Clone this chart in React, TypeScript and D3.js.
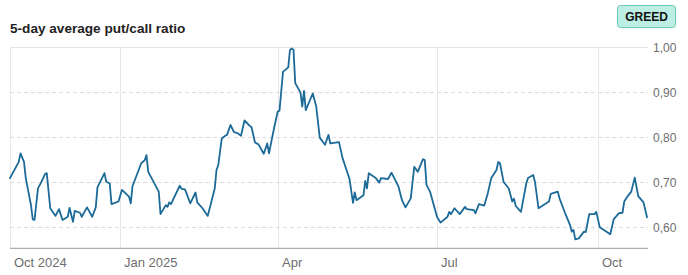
import React from "react";
import * as d3 from "d3";

const title = "5-day average put/call ratio";
const badgeLabel = "GREED";

const dates: string[] = [
  "2024-10-30","2024-11-04","2024-11-05","2024-11-07","2024-11-08","2024-11-11","2024-11-12","2024-11-13","2024-11-15","2024-11-17",
  "2024-11-19","2024-11-20","2024-11-22","2024-11-25","2024-11-27","2024-11-29","2024-12-02","2024-12-03","2024-12-05","2024-12-06",
  "2024-12-09","2024-12-10","2024-12-13","2024-12-16","2024-12-18","2024-12-19","2024-12-23","2024-12-24","2024-12-26","2024-12-27",
  "2024-12-31","2025-01-02","2025-01-06","2025-01-07","2025-01-08","2025-01-13","2025-01-15","2025-01-16","2025-01-17","2025-01-23",
  "2025-01-24","2025-01-27","2025-01-28","2025-01-29","2025-01-30","2025-02-01","2025-02-04","2025-02-05","2025-02-07","2025-02-10",
  "2025-02-13","2025-02-14","2025-02-17","2025-02-20","2025-02-24","2025-02-25","2025-02-26","2025-02-28","2025-03-02","2025-03-03",
  "2025-03-05","2025-03-07","2025-03-09","2025-03-11","2025-03-13","2025-03-16","2025-03-17","2025-03-19","2025-03-21","2025-03-24",
  "2025-03-26","2025-03-27","2025-03-30","2025-04-01","2025-04-02","2025-04-04","2025-04-07","2025-04-08","2025-04-09","2025-04-10",
  "2025-04-11","2025-04-14","2025-04-15","2025-04-16","2025-04-17","2025-04-21","2025-04-23","2025-04-25","2025-04-28","2025-04-30",
  "2025-05-01","2025-05-06","2025-05-08","2025-05-12","2025-05-14","2025-05-15","2025-05-16","2025-05-20","2025-05-21","2025-05-22",
  "2025-05-23","2025-05-27","2025-05-29","2025-05-30","2025-06-03","2025-06-05","2025-06-09","2025-06-11","2025-06-13","2025-06-16",
  "2025-06-18","2025-06-20","2025-06-23","2025-06-24","2025-06-25","2025-06-27","2025-07-01","2025-07-03","2025-07-07","2025-07-08",
  "2025-07-09","2025-07-11","2025-07-14","2025-07-17","2025-07-18","2025-07-22","2025-07-23","2025-07-25","2025-07-28","2025-07-30",
  "2025-08-01","2025-08-04","2025-08-05","2025-08-06","2025-08-08","2025-08-11","2025-08-13","2025-08-14","2025-08-15","2025-08-18",
  "2025-08-21","2025-08-22","2025-08-25","2025-08-26","2025-08-28","2025-09-03","2025-09-04","2025-09-08","2025-09-09","2025-09-12",
  "2025-09-15","2025-09-16","2025-09-17","2025-09-18","2025-09-20","2025-09-23","2025-09-24","2025-09-26","2025-09-29","2025-09-30",
  "2025-10-02","2025-10-08","2025-10-10","2025-10-13","2025-10-15","2025-10-16","2025-10-18","2025-10-20","2025-10-22","2025-10-24",
  "2025-10-27","2025-10-29"
];

const ratios: number[] = [
  0.708,0.744,0.763,0.744,0.708,0.648,0.616,0.615,0.685,0.700,
  0.717,0.719,0.641,0.624,0.639,0.615,0.622,0.642,0.611,0.635,
  0.631,0.622,0.643,0.622,0.643,0.688,0.719,0.700,0.696,0.650,
  0.656,0.682,0.667,0.652,0.690,0.741,0.748,0.759,0.722,0.678,
  0.628,0.648,0.644,0.654,0.650,0.667,0.691,0.684,0.683,0.652,
  0.676,0.654,0.641,0.624,0.685,0.726,0.737,0.796,0.802,0.804,
  0.826,0.810,0.808,0.802,0.836,0.824,0.821,0.787,0.783,0.762,
  0.785,0.763,0.821,0.856,0.858,0.944,0.954,0.993,0.996,0.993,
  0.919,0.898,0.867,0.902,0.859,0.896,0.867,0.798,0.782,0.804,
  0.785,0.788,0.753,0.706,0.653,0.676,0.659,0.670,0.702,0.685,
  0.719,0.708,0.698,0.708,0.706,0.720,0.689,0.659,0.643,0.663,
  0.733,0.722,0.750,0.748,0.693,0.678,0.622,0.609,0.622,0.633,
  0.628,0.641,0.628,0.644,0.639,0.637,0.630,0.650,0.647,0.674,
  0.708,0.726,0.744,0.741,0.700,0.685,0.656,0.662,0.646,0.633,
  0.696,0.708,0.715,0.699,0.641,0.656,0.673,0.678,0.663,0.632,
  0.604,0.589,0.593,0.572,0.574,0.589,0.588,0.628,0.628,0.633,
  0.599,0.583,0.617,0.630,0.631,0.656,0.668,0.678,0.709,0.668,
  0.654,0.621
];

const xTickDates: string[] = ["2024-10-30", "2025-01-01", "2025-04-01", "2025-07-01", "2025-10-01"];
const xTickLabels: string[] = ["Oct 2024", "Jan 2025", "Apr", "Jul", "Oct"];
const yTicks: number[] = [0.6, 0.7, 0.8, 0.9, 1.0];
const yDomain: number[] = [0.552, 1.0];

const W = 688;
const H = 275;
const plotLeft = 10;
const plotRight = 647;
const plotTop = 46.7;
const plotBottom = 248.3;

export default function App() {
  const parse = d3.timeParse("%Y-%m-%d");
  const data = dates.map((d, i) => ({ date: parse(d) as Date, value: ratios[i] }));

  const x = d3
    .scaleTime()
    .domain([data[0].date, data[data.length - 1].date])
    .range([plotLeft, plotRight]);
  const y = d3.scaleLinear().domain(yDomain).range([plotBottom, plotTop]);

  const line = d3
    .line<{ date: Date; value: number }>()
    .x((d) => x(d.date))
    .y((d) => y(d.value))
    .curve(d3.curveLinear);

  const fmt = (v: number) => v.toFixed(2).replace(".", ",");
  const font = "Arial, 'Liberation Sans', Helvetica, sans-serif";

  return (
    <div style={{ position: "absolute", left: 0, top: 0 }}>
      <svg width={W} height={H} style={{ display: "block" }}>
        <rect x={0} y={0} width={W} height={H} fill="#ffffff" />
        <text x={10} y={33} fontFamily={font} fontWeight={700} fontSize={13.6} fill="#222">
          {title}
        </text>

        <rect x={617.5} y={5.5} width={58} height={22} rx={3} fill="#bdeee3" stroke="#6cc9b5" strokeWidth={1} />
        <text x={646.5} y={20.8} textAnchor="middle" fontFamily={font} fontWeight={700} fontSize={12} fill="#111">
          {badgeLabel}
        </text>

        {xTickDates.map((d, i) => {
          const xx = Math.round(x(parse(d) as Date)) + 0.5;
          return (
            <line key={"vg" + i} x1={xx} x2={xx} y1={plotTop} y2={plotBottom} stroke="#e8e8e8" strokeWidth={1} />
          );
        })}

        {yTicks.map((t, i) => {
          const yy = Math.round(y(t)) + 0.5;
          const isTop = t === 1.0;
          return (
            <g key={"yg" + i}>
              <line
                x1={plotLeft}
                x2={plotRight + 1}
                y1={yy}
                y2={yy}
                stroke={isTop ? "#e4e4e4" : "#dcdcdc"}
                strokeWidth={1}
                strokeDasharray={isTop ? undefined : "4,3"}
              />
              <text x={653} y={yy} dy="0.35em" fontFamily={font} fontSize={12} fill="#6e6e6e">
                {fmt(t)}
              </text>
            </g>
          );
        })}

        <line x1={plotLeft} x2={plotRight + 1} y1={plotBottom} y2={plotBottom} stroke="#9a9a9a" strokeWidth={1} />

        {xTickDates.map((d, i) => (
          <text
            key={"xl" + i}
            x={Math.round(x(parse(d) as Date)) + 4}
            y={266.5}
            fontFamily={font}
            fontSize={13}
            fill="#6e6e6e"
          >
            {xTickLabels[i]}
          </text>
        ))}

        <path d={line(data) || ""} fill="none" stroke="#1c6a98" strokeWidth={1.8} strokeLinejoin="round" strokeLinecap="round" />
      </svg>
    </div>
  );
}
